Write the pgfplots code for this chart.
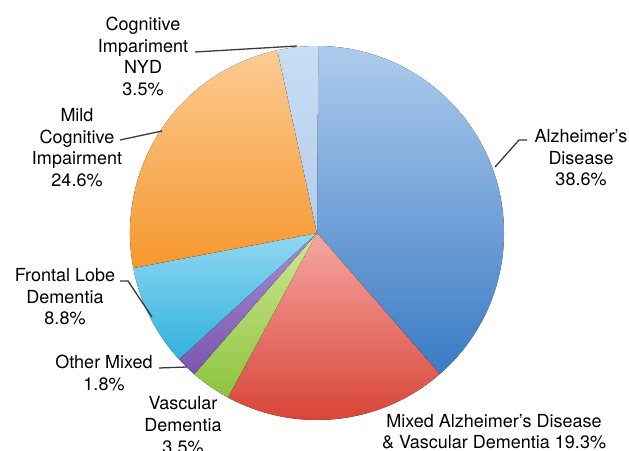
\documentclass[border=0pt]{standalone}
\usepackage{pgfplots}
\pgfplotsset{compat=1.18}
\usepackage{fontspec}
\setmainfont{TeX Gyre Heros}
\definecolor{alzT}{HTML}{AECBEC}
\definecolor{alzB}{HTML}{3A7BC4}
\definecolor{mixT}{HTML}{F5A6A2}
\definecolor{mixB}{HTML}{D63D2E}
\definecolor{vasT}{HTML}{D0E694}
\definecolor{vasB}{HTML}{8CC43E}
\definecolor{othT}{HTML}{A58DD2}
\definecolor{othB}{HTML}{7A56AE}
\definecolor{froT}{HTML}{92D7F2}
\definecolor{froB}{HTML}{30B2DE}
\definecolor{mciT}{HTML}{FCCB93}
\definecolor{mciB}{HTML}{F6972D}
\definecolor{nydT}{HTML}{C9DDF3}
\definecolor{nydB}{HTML}{B2CDEE}
\definecolor{leader}{HTML}{3A3A3A}
\newcommand\lblfont{\fontsize{18bp}{21.5bp}\selectfont}
% slice: cumulative start (%), share (%), top colour, bottom colour
\newcommand\slice[4]{%
  \fill[top color=#3,bottom color=#4] (axis cs:317,218) -- ++({90-3.6*#1}:187bp)
    arc[start angle={90-3.6*#1}, end angle={90-3.6*(#1+#2)}, radius=187bp] -- cycle;}
\begin{document}
\begin{tikzpicture}
\begin{axis}[
  width=629bp, height=451bp, scale only axis,
  xmin=0, xmax=629, ymin=0, ymax=451,
  hide axis, clip=true]
\addplot[draw=none] coordinates {(0,0) (629,451)};
\slice{0}{38.6}{alzT}{alzB}
\slice{38.6}{19.3}{mixT}{mixB}
\slice{57.9}{3.5}{vasT}{vasB}
\slice{61.4}{1.8}{othT}{othB}
\slice{63.2}{8.8}{froT}{froB}
\slice{72.0}{24.6}{mciT}{mciB}
\slice{96.6}{3.5}{nydT}{nydB}
% leader lines
\draw[leader, line width=1.3bp] (axis cs:195,399) -- (axis cs:297,405);
\draw[leader, line width=1.3bp] (axis cs:120,311) -- (axis cs:162,320);
\draw[leader, line width=1.3bp] (axis cs:120,170) -- (axis cs:128,170) -- (axis cs:152,134);
\draw[leader, line width=1.3bp] (axis cs:159,83) -- (axis cs:187,84);
\draw[leader, line width=1.3bp] (axis cs:527,311) -- (axis cs:519,311) -- (axis cs:495,284);
% labels
\begin{scope}[every node/.style={anchor=base, inner sep=0pt, font=\lblfont}]
\node at (axis cs:143,420) {Cognitive};
\node at (axis cs:143,398.5) {Impariment};
\node at (axis cs:143,377) {NYD};
\node at (axis cs:143,355.5) {3.5\%};
\node at (axis cs:77,329) {Mild};
\node at (axis cs:77,307.5) {Cognitive};
\node at (axis cs:77,286) {Impairment};
\node at (axis cs:77,264.5) {24.6\%};
\node at (axis cs:65,169) {Frontal Lobe};
\node at (axis cs:65,147.5) {Dementia};
\node at (axis cs:65,126) {8.8\%};
\node at (axis cs:104,82) {Other Mixed};
\node at (axis cs:104,60.5) {1.8\%};
\node at (axis cs:183,41) {Vascular};
\node at (axis cs:183,19.5) {Dementia};
\node at (axis cs:183,-2) {3.5\%};
\node at (axis cs:494,24) {Mixed Alzheimer’s Disease};
\node at (axis cs:494,2.5) {\& Vascular Dementia 19.3\%};
\node at (axis cs:581,308) {Alzheimer’s};
\node at (axis cs:581,286.5) {Disease};
\node at (axis cs:581,265) {38.6\%};
\end{scope}
\end{axis}
\pgfresetboundingbox
\path[use as bounding box] (current axis.south west) rectangle (current axis.north east);
\end{tikzpicture}
\end{document}
